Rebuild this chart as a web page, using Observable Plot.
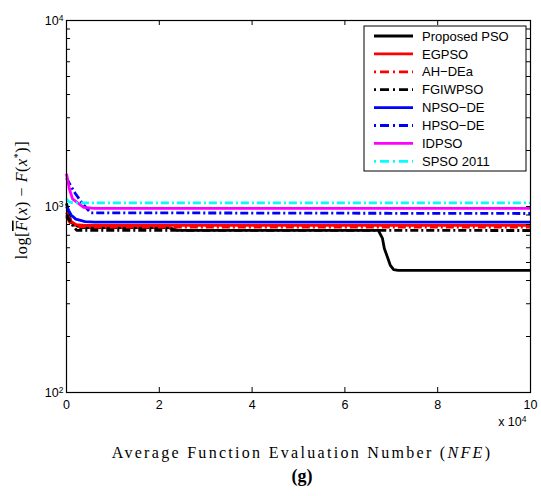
<!DOCTYPE html>
<html><head><meta charset="utf-8">
<script src="https://cdn.jsdelivr.net/npm/d3@7"></script>
<script src="https://cdn.jsdelivr.net/npm/@observablehq/plot@0.6"></script>
<style>body{margin:0;background:#fff;} svg{display:block;}</style>
</head><body><div id="chart"></div>
<script>
// ---- data ----
const seriesNames = ["Proposed PSO","EGPSO","AH\u2212DEa","FGIWPSO","NPSO\u2212DE","HPSO\u2212DE","IDPSO","SPSO 2011"];
const seriesColors = ["#000000","#ff0000","#ff0000","#000000","#0000ff","#0000ff","#ff00ff","#00ffff"];
const seriesDash = [null,null,"8,3,2,3","8,3,2,3",null,"8,3,2,3",null,"8,3,2,3"];

const proposedNfe = [0, 1000, 3000, 22000, 24000, 67200, 68100, 68500, 69200, 69800, 70500, 71500, 100000];
const proposedVal = [1040, 820, 770, 770, 745, 745, 673, 594, 532, 482, 458, 453, 453];
const egpsoNfe = [0, 1000, 2000, 4000, 100000];
const egpsoVal = [930, 830, 800, 791, 791];
const ahdeaNfe = [0, 1000, 2500, 5000, 100000];
const ahdeaVal = [880, 800, 780, 775, 775];
const fgiwNfe = [0, 800, 1500, 2200, 100000];
const fgiwVal = [900, 830, 780, 745, 743];
const npsoNfe = [0, 1000, 2000, 4000, 6000, 100000];
const npsoVal = [1000, 900, 855, 830, 825, 825];
const hpsoNfe = [0, 1000, 1900, 3400, 5200, 100000];
const hpsoVal = [1420, 1280, 1175, 1040, 925, 917];
const idpsoNfe = [0, 600, 1300, 3700, 6000, 100000];
const idpsoVal = [1500, 1250, 1100, 990, 977, 977];
const spsoNfe = [0, 500, 1500, 100000];
const spsoVal = [1100, 1060, 1045, 1045];

const xTicks = [0, 20000, 40000, 60000, 80000, 100000];
const xTickLabels = ["0","2","4","6","8","10"];
const yTicks = [100, 1000, 10000];
const yTickExponents = ["2","3","4"];
const yMinorTicks = [200,300,400,500,600,700,800,900,2000,3000,4000,5000,6000,7000,8000,9000];

// ---- build ----
const allNfe = [proposedNfe, egpsoNfe, ahdeaNfe, fgiwNfe, npsoNfe, hpsoNfe, idpsoNfe, spsoNfe];
const allVal = [proposedVal, egpsoVal, ahdeaVal, fgiwVal, npsoVal, hpsoVal, idpsoVal, spsoVal];
const seriesRows = allNfe.map((xs, k) => xs.map((x, i) => ({nfe: x, val: allVal[k][i], name: seriesNames[k]})));

const W = 541, H = 496, mL = 66, mR = 11, mT = 20, mB = 104;
const pw = W - mL - mR, ph = H - mT - mB;
const yTickAll = yTicks.concat(yMinorTicks);
const sans = "'Liberation Sans', Arial, sans-serif";

const plot = Plot.plot({
  width: W, height: H,
  marginLeft: mL, marginRight: mR, marginTop: mT, marginBottom: mB,
  style: {fontFamily: sans, fontSize: "12.5px", background: "white", color: "black"},
  x: {type: "linear", domain: [0, 100000]},
  y: {type: "log", domain: [100, 10000]},
  marks: [
    ...seriesRows.map((rows, k) => Plot.line(rows, {
      x: "nfe", y: "val", stroke: seriesColors[k], strokeWidth: 2.8,
      strokeDasharray: seriesDash[k] || undefined, strokeLinejoin: "round", strokeLinecap: "butt"
    })),
    Plot.frame({stroke: "black", strokeWidth: 1.2}),
    Plot.tickX(xTicks, {x: d => d, insetTop: ph - 5, stroke: "black"}),
    Plot.tickX(xTicks, {x: d => d, insetBottom: ph - 5, stroke: "black"}),
    Plot.tickY(yTickAll, {y: d => d, insetRight: pw - 4, stroke: "black"}),
    Plot.tickY(yTickAll, {y: d => d, insetLeft: pw - 4, stroke: "black"}),
    Plot.axisX({ticks: xTicks, tickFormat: d => xTickLabels[xTicks.indexOf(d)], tickSize: 0, tickPadding: 8, label: null}),
    Plot.axisY({ticks: yTicks, tickFormat: d => "10", tickSize: 0, tickPadding: 7, label: null}),
    Plot.text(["x 10"], {frameAnchor: "bottom-right", dy: 33, dx: -4, textAnchor: "end"})
  ]
});
document.getElementById("chart").appendChild(plot);

// ---- labels, superscripts and legend ----
const svg = d3.select(plot);
svg.selectAll("text").style("font-size", "12.5px").style("font-family", sans);
// superscript exponents on the y tick labels and the x multiplier
svg.selectAll('g[aria-label="y-axis tick label"] text').each(function(d, i) {
  const t = d3.select(this);
  t.append("tspan").attr("dy", "-0.45em").style("font-size", "8.5px").text(yTickExponents[i]);
});
svg.selectAll('g[aria-label="y-axis tick label"]').attr("transform", function() {
  const tr = this.getAttribute("transform") || ""; return tr + " translate(4,0)";
});
svg.selectAll('g[aria-label="text"] text').each(function() {
  d3.select(this).append("tspan").attr("dy", "-0.45em").style("font-size", "8.5px").text("4");
});

const serif = "'Liberation Serif', 'DejaVu Serif', serif";
const xl = svg.append("text").attr("x", 302).attr("y", 458).attr("text-anchor", "middle")
  .style("font-family", serif).style("font-size", "16px").attr("letter-spacing", "2.3px").attr("fill", "black");
xl.append("tspan").text("Average Function Evaluation Number (");
xl.append("tspan").attr("font-style", "italic").text("NFE");
xl.append("tspan").text(")");

svg.append("text").attr("x", 302).attr("y", 482).attr("text-anchor", "middle")
  .style("font-family", serif).style("font-size", "18px").attr("font-weight", "bold").attr("fill", "black").text("(g)");

const yl = svg.append("text").attr("transform", "translate(27,200) rotate(-90)").attr("text-anchor", "middle")
  .style("font-family", serif).style("font-size", "16px").attr("letter-spacing", "0.6px").attr("fill", "black");
yl.append("tspan").text("log[");
yl.append("tspan").attr("font-style", "italic").attr("text-decoration", "overline").text("F");
yl.append("tspan").text("(");
yl.append("tspan").attr("font-style", "italic").text("x");
yl.append("tspan").text(") \u2212 ");
yl.append("tspan").attr("font-style", "italic").text("F");
yl.append("tspan").text("(");
yl.append("tspan").attr("font-style", "italic").text("x");
yl.append("tspan").style("font-size", "10px").attr("dy", -6).text("*");
yl.append("tspan").attr("dy", 6).text(")]");

const lg = svg.append("g");
lg.append("rect").attr("x", 364).attr("y", 26).attr("width", 162).attr("height", 145)
  .attr("fill", "white").attr("stroke", "black").attr("stroke-width", 1);
seriesNames.forEach((n, k) => {
  const y = 36 + k * 17.9;
  lg.append("line").attr("x1", 374).attr("x2", 413).attr("y1", y).attr("y2", y)
    .attr("stroke", seriesColors[k]).attr("stroke-width", 2.8)
    .attr("stroke-dasharray", seriesDash[k] ? "2,4,9,4" : null);
  lg.append("text").attr("x", 422).attr("y", y).attr("dy", "0.36em").attr("text-anchor", "start")
    .style("font-family", sans).style("font-size", "13px").attr("fill", "black").text(n);
});
</script>
</body></html>
